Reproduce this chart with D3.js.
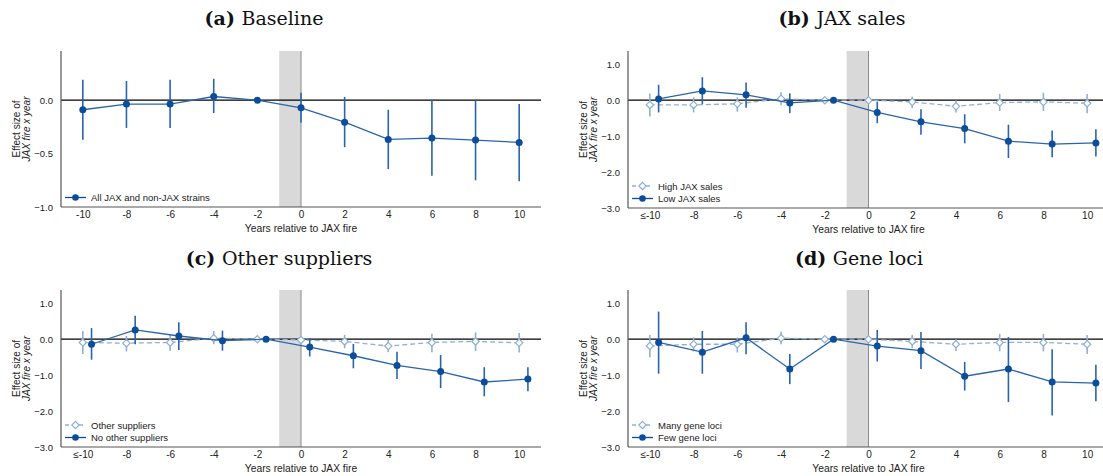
<!DOCTYPE html>
<html>
<head>
<meta charset="utf-8">
<script src="https://cdn.jsdelivr.net/npm/d3@7"></script>
<style>
  html, body { margin: 0; padding: 0; background: #fff; }
  svg { display: block; }
</style>
</head>
<body>
<svg id="chart" width="1103" height="476"></svg>
<script>
// ---------------- DATA ----------------
const years = [-10, -8, -6, -4, -2, 0, 2, 4, 6, 8, 10];
const xTickLabelsA = ["-10", "-8", "-6", "-4", "-2", "0", "2", "4", "6", "8", "10"];
const xTickLabelsB = ["\u2264-10", "-8", "-6", "-4", "-2", "0", "2", "4", "6", "8", "10"];
const yTicksA = [0, -0.5, -1];
const yTicksB = [1, 0, -1, -2, -3];

// (a) Baseline
const baseEst = [-0.09, -0.037, -0.037, 0.034, 0, -0.072, -0.206, -0.368, -0.355, -0.374, -0.396];
const baseLo  = [-0.37, -0.26, -0.26, -0.12, 0, -0.21, -0.44, -0.645, -0.707, -0.75, -0.76];
const baseHi  = [0.19, 0.18, 0.19, 0.20, 0, 0.07, 0.03, -0.09, 0.0, 0.0, -0.035];

// (b) JAX sales
const highSalesEst = [-0.13, -0.13, -0.10, 0.04, 0, 0.0, -0.047, -0.17, -0.066, -0.047, -0.083];
const highSalesLo  = [-0.45, -0.34, -0.32, -0.14, 0, 0.0, -0.22, -0.34, -0.30, -0.30, -0.36];
const highSalesHi  = [0.19, 0.08, 0.08, 0.22, 0, 0.0, 0.10, -0.01, 0.175, 0.21, 0.175];
const lowSalesEst = [0.036, 0.26, 0.15, -0.075, 0, -0.34, -0.60, -0.79, -1.14, -1.22, -1.19];
const lowSalesLo  = [-0.34, -0.11, -0.21, -0.36, 0, -0.64, -0.96, -1.20, -1.61, -1.59, -1.57];
const lowSalesHi  = [0.43, 0.64, 0.49, 0.19, 0, -0.04, -0.25, -0.39, -0.68, -0.84, -0.81];

// (c) Other suppliers
const otherSupEst = [-0.09, -0.11, -0.09, 0.03, 0, -0.02, -0.06, -0.19, -0.09, -0.06, -0.10];
const otherSupLo  = [-0.41, -0.34, -0.32, -0.14, 0, -0.02, -0.25, -0.36, -0.36, -0.33, -0.37];
const otherSupHi  = [0.23, 0.09, 0.12, 0.23, 0, -0.02, 0.12, -0.02, 0.15, 0.19, 0.17];
const noOtherEst = [-0.14, 0.26, 0.09, -0.04, 0, -0.22, -0.46, -0.73, -0.90, -1.19, -1.11];
const noOtherLo  = [-0.57, -0.14, -0.30, -0.32, 0, -0.48, -0.81, -1.11, -1.36, -1.59, -1.45];
const noOtherHi  = [0.31, 0.65, 0.47, 0.24, 0, 0.03, -0.13, -0.35, -0.44, -0.78, -0.78];

// (d) Gene loci
const manyLociEst = [-0.19, -0.14, -0.14, 0.03, 0, 0.0, -0.06, -0.14, -0.09, -0.09, -0.14];
const manyLociLo  = [-0.50, -0.34, -0.37, -0.14, 0, 0.0, -0.25, -0.33, -0.34, -0.34, -0.41];
const manyLociHi  = [0.12, 0.05, 0.05, 0.21, 0, 0.0, 0.12, 0.0, 0.15, 0.15, 0.12];
const fewLociEst = [-0.09, -0.36, 0.04, -0.83, 0, -0.19, -0.32, -1.03, -0.83, -1.19, -1.22];
const fewLociLo  = [-0.96, -0.96, -0.42, -1.25, 0, -0.62, -0.83, -1.43, -1.75, -2.12, -1.73];
const fewLociHi  = [0.77, 0.23, 0.47, -0.41, 0, 0.26, 0.20, -0.63, 0.06, -0.28, -0.71];

// ---------------- STYLE ----------------
const DARK = "#0b4c9b";
const DARK_CI = "#2a64ad";
const LIGHT = "#8fb0d5";
const SANS = "'Liberation Sans', Arial, sans-serif";
const SERIF = "'DejaVu Serif', serif";

const svg = d3.select("#chart");

function zip(est, lo, hi, shift) {
  return years.map((y, i) => ({ x: y + shift, est: est[i], lo: lo[i], hi: hi[i] }));
}

const panels = [
  {
    label: "(a)", name: "Baseline", titleX: 264, titleY: 25,
    left: 61, right: 541, top: 51, bottom: 207, yDomain: [-1, 0.46],
    yTicks: yTicksA, yFmt: d3.format(".1f"), xLabels: xTickLabelsA,
    series: [
      { name: "All JAX and non-JAX strains", kind: "dark", data: zip(baseEst, baseLo, baseHi, 0) }
    ]
  },
  {
    label: "(b)", name: "JAX sales", titleX: 842, titleY: 25,
    left: 628, right: 1109, top: 51, bottom: 208, yDomain: [-3, 1.37],
    yTicks: yTicksB, yFmt: d3.format(".1f"), xLabels: xTickLabelsB,
    series: [
      { name: "High JAX sales", kind: "light", data: zip(highSalesEst, highSalesLo, highSalesHi, 0) },
      { name: "Low JAX sales", kind: "dark", data: zip(lowSalesEst, lowSalesLo, lowSalesHi, 0.4) }
    ]
  },
  {
    label: "(c)", name: "Other suppliers", titleX: 279, titleY: 265,
    left: 61, right: 541, top: 290, bottom: 447, yDomain: [-3, 1.37],
    yTicks: yTicksB, yFmt: d3.format(".1f"), xLabels: xTickLabelsB,
    series: [
      { name: "Other suppliers", kind: "light", data: zip(otherSupEst, otherSupLo, otherSupHi, 0) },
      { name: "No other suppliers", kind: "dark", data: zip(noOtherEst, noOtherLo, noOtherHi, 0.4) }
    ]
  },
  {
    label: "(d)", name: "Gene loci", titleX: 859, titleY: 265,
    left: 628, right: 1109, top: 290, bottom: 447, yDomain: [-3, 1.37],
    yTicks: yTicksB, yFmt: d3.format(".1f"), xLabels: xTickLabelsB,
    series: [
      { name: "Many gene loci", kind: "light", data: zip(manyLociEst, manyLociLo, manyLociHi, 0) },
      { name: "Few gene loci", kind: "dark", data: zip(fewLociEst, fewLociLo, fewLociHi, 0.4) }
    ]
  }
];

// square rotated 45 degrees
const diamond = d3.symbol().type(d3.symbolDiamond2).size(34);

panels.forEach(p => {
  const x = d3.scaleLinear().domain([-11, 11]).range([p.left, p.right]);
  const y = d3.scaleLinear().domain(p.yDomain).range([p.bottom, p.top]);
  const g = svg.append("g");

  // title
  const t = g.append("text")
    .attr("x", p.titleX).attr("y", p.titleY)
    .attr("text-anchor", "middle")
    .attr("font-family", SERIF).attr("font-size", 19).attr("fill", "#111");
  t.append("tspan").attr("font-weight", "bold").text(p.label + " ");
  t.append("tspan").text(p.name);

  // shaded band year -1 .. 0
  g.append("rect")
    .attr("x", x(-1)).attr("y", p.top)
    .attr("width", x(0) - x(-1)).attr("height", p.bottom - p.top)
    .attr("fill", "#d9d9d9");
  g.append("line")
    .attr("x1", x(0)).attr("x2", x(0)).attr("y1", p.top).attr("y2", p.bottom)
    .attr("stroke", "#8a8a8a").attr("stroke-width", 1);

  // zero line
  g.append("line")
    .attr("x1", p.left).attr("x2", p.right).attr("y1", y(0)).attr("y2", y(0))
    .attr("stroke", "#000").attr("stroke-width", 1.2);

  // axes
  const yAxis = d3.axisLeft(y).tickValues(p.yTicks).tickFormat(p.yFmt).tickSize(0).tickPadding(8);
  const ya = g.append("g").attr("transform", `translate(${p.left},0)`).call(yAxis);
  ya.select(".domain").remove();
  ya.selectAll("text").attr("font-family", SANS).attr("font-size", 9.5).attr("fill", "#222");
  g.append("line").attr("x1", p.left).attr("x2", p.left).attr("y1", p.top).attr("y2", p.bottom)
    .attr("stroke", "#555").attr("stroke-width", 1.2);

  const xAxis = d3.axisBottom(x).tickValues(years).tickFormat((d, i) => p.xLabels[i]).tickSize(0).tickPadding(4);
  const xa = g.append("g").attr("transform", `translate(0,${p.bottom})`).call(xAxis);
  xa.select(".domain").remove();
  xa.selectAll("text").attr("font-family", SANS).attr("font-size", 10).attr("fill", "#222");
  g.append("line").attr("x1", p.left).attr("x2", p.right).attr("y1", p.bottom).attr("y2", p.bottom)
    .attr("stroke", "#555").attr("stroke-width", 1.2);

  // axis titles
  g.append("text")
    .attr("x", x(0)).attr("y", p.bottom + 25)
    .attr("text-anchor", "middle")
    .attr("font-family", SANS).attr("font-size", 10.3).attr("fill", "#222")
    .text("Years relative to JAX fire");
  const cy = (p.top + p.bottom) / 2;
  g.append("text")
    .attr("transform", `translate(${p.left - 41},${cy}) rotate(-90)`)
    .attr("text-anchor", "middle")
    .attr("font-family", SANS).attr("font-size", 10).attr("fill", "#222")
    .text("Effect size of");
  g.append("text")
    .attr("transform", `translate(${p.left - 31},${cy}) rotate(-90)`)
    .attr("text-anchor", "middle")
    .attr("font-family", SANS).attr("font-size", 10).attr("font-style", "italic").attr("fill", "#222")
    .text("JAX fire x year");

  // series
  const line = d3.line().x(d => x(d.x)).y(d => y(d.est));
  p.series.forEach(s => {
    const isDark = s.kind === "dark";
    // CI
    g.append("g").selectAll("line").data(s.data).join("line")
      .attr("x1", d => x(d.x)).attr("x2", d => x(d.x))
      .attr("y1", d => y(d.lo)).attr("y2", d => y(d.hi))
      .attr("stroke", isDark ? DARK_CI : LIGHT).attr("stroke-width", 1.6);
    // connecting line
    g.append("path").datum(s.data).attr("d", line)
      .attr("fill", "none").attr("stroke", isDark ? DARK_CI : LIGHT)
      .attr("stroke-width", 1.3)
      .attr("stroke-dasharray", isDark ? null : "5,3");
    // markers
    if (isDark) {
      g.append("g").selectAll("circle").data(s.data).join("circle")
        .attr("cx", d => x(d.x)).attr("cy", d => y(d.est)).attr("r", 3.5)
        .attr("fill", DARK);
    } else {
      g.append("g").selectAll("path").data(s.data).join("path")
        .attr("d", diamond)
        .attr("transform", d => `translate(${x(d.x)},${y(d.est)})`)
        .attr("fill", "#fff").attr("stroke", LIGHT).attr("stroke-width", 1.2);
    }
  });

  // legend
  const n = p.series.length;
  p.series.forEach((s, i) => {
    const isDark = s.kind === "dark";
    const ly = p.bottom - 9.5 - (n - 1 - i) * 12.5;
    const lx0 = p.left + 4, lx1 = p.left + 25;
    g.append("line").attr("x1", lx0).attr("x2", lx1).attr("y1", ly).attr("y2", ly)
      .attr("stroke", isDark ? DARK : LIGHT).attr("stroke-width", 1.3)
      .attr("stroke-dasharray", isDark ? null : "4,3");
    if (isDark) {
      g.append("circle").attr("cx", (lx0 + lx1) / 2).attr("cy", ly).attr("r", 3.3).attr("fill", DARK);
    } else {
      g.append("path").attr("d", diamond)
        .attr("transform", `translate(${(lx0 + lx1) / 2},${ly})`)
        .attr("fill", "#fff").attr("stroke", LIGHT).attr("stroke-width", 1.2);
    }
    g.append("text").attr("x", p.left + 30).attr("y", ly + 3.5)
      .attr("font-family", SANS).attr("font-size", 9.5).attr("fill", "#222")
      .text(s.name);
  });
});
</script>
</body>
</html>
